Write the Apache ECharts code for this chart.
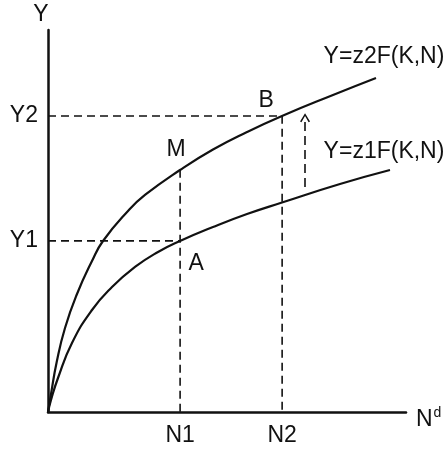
<!DOCTYPE html>
<html>
<head>
<meta charset="utf-8">
<script src="https://cdn.jsdelivr.net/npm/echarts@6/dist/echarts.min.js"></script>
<style>
  html, body { margin: 0; padding: 0; background: #fff; }
  #chart { width: 446px; height: 449px; }
</style>
</head>
<body>
<div id="chart"></div>
<script>
// values, axes run 0..100 in both directions
const N1 = 36.9
const N2 = 65.4
const Y1 = 44.8
const Y2 = 77.5
const YM = 63.4

const lowCurve = [[0, 0], [0.84, 3.14], [2.79, 8.9], [6.7, 18.06], [12.29, 26.7], [17.88, 32.72], [24.3, 37.96], [30.73, 41.88], [36.87, 44.76], [46.09, 48.43], [55.59, 51.83], [65.36, 54.84], [81.56, 59.69], [95.53, 63.35]]
const highCurve = [[0, 0], [0.84, 4.71], [2.43, 13.09], [4.75, 21.99], [8.1, 30.89], [12.29, 39.53], [15.36, 44.76], [22.35, 52.62], [27.09, 56.81], [36.87, 63.35], [46.09, 68.72], [55.59, 73.3], [65.36, 77.49], [79.61, 82.98], [91.62, 87.43]]
const curveNames = ['Y=z1F(K,N)', 'Y=z2F(K,N)']

const xTicks = [N1, N2]
const xTickLabels = ['N1', 'N2']
const yTicks = [Y1, Y2]
const yTickLabels = ['Y1', 'Y2']

const pointNames = ['A', 'M', 'B']
const pointX = [N1, N1, N2]
const pointY = [Y1, YM, Y2]

const arrowX = 71.8
const arrowFrom = 58.9
const arrowTo = 77.0

const ink = '#111'
const font = 'Liberation Sans, Arial, sans-serif'
const dash = { color: ink, width: 1.6, type: [8, 5] }
const textStyle = { color: ink, fontSize: 23, fontFamily: font }

function pickLabel(ticks, names) {
  return (v) => {
    let best = 0
    ticks.forEach((t, i) => { if (Math.abs(t - v) < Math.abs(ticks[best] - v)) best = i })
    return names[best]
  }
}

const pointOffsets = { A: [16, 23], M: [-4, -20], B: [-16, -15] }

const chart = echarts.init(document.getElementById('chart'), null, { renderer: 'canvas' })

const guide = (data) => ({
  type: 'line', data, showSymbol: false, silent: true,
  lineStyle: dash, z: 1
})

chart.setOption({
  animation: false,
  grid: { left: 48, top: 30, width: 358, height: 382 },
  xAxis: {
    type: 'value', min: 0, max: 100,
    splitLine: { show: false },
    axisTick: { show: false },
    axisLine: { lineStyle: { color: ink, width: 2.5 } },
    axisLabel: {
      customValues: xTicks, formatter: pickLabel(xTicks, xTickLabels),
      ...textStyle, margin: 12
    },
    name: '{n|N}{s|d}', nameLocation: 'end', nameGap: 10,
    nameTextStyle: {
      padding: [16, 0, 0, 0],
      rich: {
        n: { ...textStyle },
        s: { color: ink, fontSize: 14, fontFamily: font, padding: [0, 0, 14, 1] }
      }
    }
  },
  yAxis: {
    type: 'value', min: 0, max: 100,
    splitLine: { show: false },
    axisTick: { show: false },
    axisLine: { lineStyle: { color: ink, width: 2.5 } },
    axisLabel: {
      customValues: yTicks, formatter: pickLabel(yTicks, yTickLabels),
      ...textStyle, margin: 10
    },
    name: 'Y', nameLocation: 'end', nameGap: 4,
    nameTextStyle: { ...textStyle, padding: [0, 14, 0, 0] }
  },
  series: [
    guide([[0, Y2], [N2, Y2], [N2, 0]]),
    guide([[0, Y1], [N1, Y1]]),
    guide([[N1, YM], [N1, 0]]),
    {
      type: 'line', name: curveNames[0], data: lowCurve, smooth: 0.5,
      showSymbol: false, lineStyle: { color: ink, width: 2.2 }, z: 3,
      markPoint: {
        symbol: 'circle', symbolSize: 0,
        data: [{ coord: lowCurve[lowCurve.length - 1] }],
        label: { show: true, formatter: curveNames[0], position: 'inside', offset: [-6, -18], ...textStyle }
      },
      markLine: {
        silent: true,
        symbol: ['none', 'path://M5,0 L10,9 L8.6,10 L5,3 L1.4,10 L0,9 Z'],
        symbolSize: [10, 9],
        label: { show: false },
        lineStyle: { color: ink, width: 1.6, type: [9, 5] },
        data: [[{ coord: [arrowX, arrowFrom] }, { coord: [arrowX, arrowTo] }]]
      }
    },
    {
      type: 'line', name: curveNames[1], data: highCurve, smooth: 0.5,
      showSymbol: false, lineStyle: { color: ink, width: 2.2 }, z: 3,
      markPoint: {
        symbol: 'circle', symbolSize: 0,
        data: [{ coord: highCurve[highCurve.length - 1], label: { formatter: curveNames[1], offset: [8, -21] } }]
          .concat(pointNames.map((n, i) => ({
            coord: [pointX[i], pointY[i]],
            label: { formatter: n, offset: pointOffsets[n] }
          }))),
        label: { show: true, position: 'inside', ...textStyle }
      }
    }
  ]
})
</script>
</body>
</html>
